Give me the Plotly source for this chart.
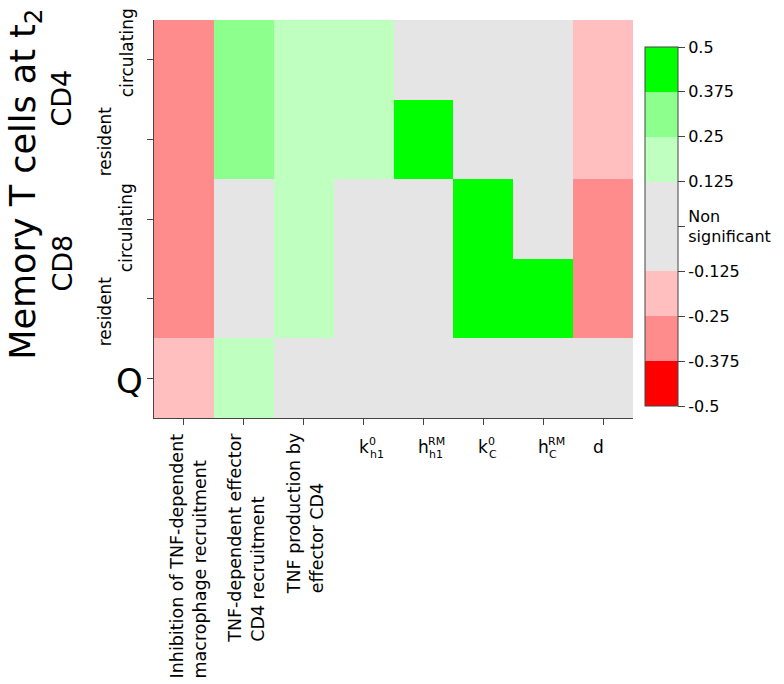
import plotly.graph_objects as go

# ---------------- data ----------------
param_keys = ["inhib_tnf_mac", "tnf_eff_cd4", "tnf_prod_cd4", "k_h1_0", "h_h1_RM", "k_C_0", "h_C_RM", "d"]
rotated_labels = ["Inhibition of TNF-dependent<br>macrophage recruitment",
                  "TNF-dependent effector<br>CD4 recruitment",
                  "TNF production by<br>effector CD4"]
symbol_main = ["k", "h", "k", "h", "d"]
symbol_sup = ["0", "RM", "0", "RM", ""]
symbol_sub = ["h1", "h1", "C", "C", ""]

row_keys = ["CD4 circulating", "CD4 resident", "CD8 circulating", "CD8 resident", "Q"]

# partial rank correlation class values (band mid-values)
cd4_circ = [-0.3125, 0.3125, 0.1875, 0.1875, 0.0, 0.0, 0.0, -0.1875]
cd4_res = [-0.3125, 0.3125, 0.1875, 0.1875, 0.4375, 0.0, 0.0, -0.1875]
cd8_circ = [-0.3125, 0.0, 0.1875, 0.0, 0.0, 0.4375, 0.0, -0.3125]
cd8_res = [-0.3125, 0.0, 0.1875, 0.0, 0.0, 0.4375, 0.4375, -0.3125]
q_row = [-0.1875, 0.1875, 0.0, 0.0, 0.0, 0.0, 0.0, 0.0]

cbar_vals = [0.5, 0.375, 0.25, 0.125, 0.0, -0.125, -0.25, -0.375, -0.5]
cbar_text = ["0.5", "0.375", "0.25", "0.125", "Non<br>significant", "-0.125", "-0.25", "-0.375", "-0.5"]

colorscale = [[0.0, "#FF0000"], [0.125, "#FF0000"],
              [0.125, "#FF8C8C"], [0.25, "#FF8C8C"],
              [0.25, "#FFBFBF"], [0.375, "#FFBFBF"],
              [0.375, "#E5E5E5"], [0.625, "#E5E5E5"],
              [0.625, "#BFFFBF"], [0.75, "#BFFFBF"],
              [0.75, "#8CFF8C"], [0.875, "#8CFF8C"],
              [0.875, "#00FF00"], [1.0, "#00FF00"]]

# ---------------- layout geometry ----------------
W, H = 784, 684
L, R, T, B = 154, 636, 20, 418
FONT = "DejaVu Sans"


def px2x(px):
    return (px - L) / (R - L)


def py2y(py):
    return (B - py) / (B - T)


z = [cd4_circ, cd4_res, cd8_circ, cd8_res, q_row]

fig = go.Figure(go.Heatmap(
    z=z, x=list(range(len(param_keys))), y=list(range(len(row_keys))),
    zmin=-0.5, zmax=0.5, colorscale=colorscale,
    colorbar=dict(
        x=px2x(648), xanchor="left", xpad=0,
        y=py2y(226.5), yanchor="middle", ypad=0,
        len=(406 - 47) / (B - T), lenmode="fraction",
        thickness=33, outlinecolor="#444", outlinewidth=1,
        tickmode="array", tickvals=cbar_vals, ticktext=cbar_text,
        ticks="outside", ticklen=7, tickcolor="#444",
        tickfont=dict(family=FONT, size=16, color="black"),
    ),
    hoverinfo="skip",
))

annotations = []
# rotated x labels
rot_xshift = [5, 2, 2]
for i, txt in enumerate(rotated_labels):
    annotations.append(dict(x=i, xref="x", y=0, yref="paper", yshift=-13,
                            text=txt, textangle=-90, xanchor="center", yanchor="top",
                            align="left", showarrow=False, xshift=rot_xshift[i],
                            font=dict(family=FONT, size=17.5, color="black")))
# symbol labels
for j, m in enumerate(symbol_main):
    ci = 3 + j
    xs = -5 if m == "d" else 0
    annotations.append(dict(x=ci, xref="x", y=0, yref="paper", yshift=-29, xshift=xs,
                            text=m, xanchor="center", yanchor="middle", showarrow=False,
                            font=dict(family=FONT, size=17, color="black")))
    if symbol_sup[j]:
        annotations.append(dict(x=ci, xref="x", y=0, yref="paper", yshift=-23, xshift=3,
                                text=symbol_sup[j], xanchor="left", yanchor="middle",
                                showarrow=False, font=dict(family=FONT, size=11, color="black")))
    if symbol_sub[j]:
        annotations.append(dict(x=ci, xref="x", y=0, yref="paper", yshift=-36, xshift=4,
                                text=symbol_sub[j], xanchor="left", yanchor="middle",
                                showarrow=False, font=dict(family=FONT, size=11, color="black")))

# y labels
annotations.append(dict(x=px2x(24), xref="paper", y=py2y(184), yref="paper",
                        text="Memory T cells at t<sub>2</sub>", textangle=-90,
                        xanchor="center", yanchor="middle", showarrow=False,
                        font=dict(family=FONT, size=35, color="black")))
for txt, cy in [("CD4", 98), ("CD8", 263)]:
    annotations.append(dict(x=px2x(61), xref="paper", y=py2y(cy), yref="paper",
                            text=txt, textangle=-90, xanchor="center", yanchor="middle",
                            showarrow=False, font=dict(family=FONT, size=27, color="black")))
for txt, cx, cy in [("circulating", 127, 53), ("resident", 105, 141),
                    ("circulating", 126, 228), ("resident", 105, 311)]:
    annotations.append(dict(x=px2x(cx), xref="paper", y=py2y(cy), yref="paper",
                            text=txt, textangle=-90, xanchor="center", yanchor="middle",
                            showarrow=False, font=dict(family=FONT, size=17, color="black")))
annotations.append(dict(x=px2x(129), xref="paper", y=py2y(381), yref="paper",
                        text="Q", xanchor="center", yanchor="middle", showarrow=False,
                        font=dict(family=FONT, size=34, color="black")))

fig.update_layout(
    width=W, height=H,
    margin=dict(l=L, r=W - R, t=T, b=H - B, pad=0),
    paper_bgcolor="white", plot_bgcolor="white",
    font=dict(family=FONT, color="black"),
    xaxis=dict(tickmode="array", tickvals=list(range(len(param_keys))), showticklabels=False,
               ticks="outside", ticklen=6, tickcolor="#444",
               showline=True, linecolor="#444", linewidth=1,
               showgrid=False, zeroline=False, range=[-0.5, 7.5], fixedrange=True),
    yaxis=dict(tickmode="array", tickvals=list(range(len(row_keys))), showticklabels=False,
               ticks="outside", ticklen=6, tickcolor="#444",
               showline=True, linecolor="#444", linewidth=1,
               showgrid=False, zeroline=False, range=[4.5, -0.5], fixedrange=True),
    annotations=annotations,
)

fig.write_html("out.html", config={"displayModeBar": False},
               post_script="document.body.style.margin='0';")
